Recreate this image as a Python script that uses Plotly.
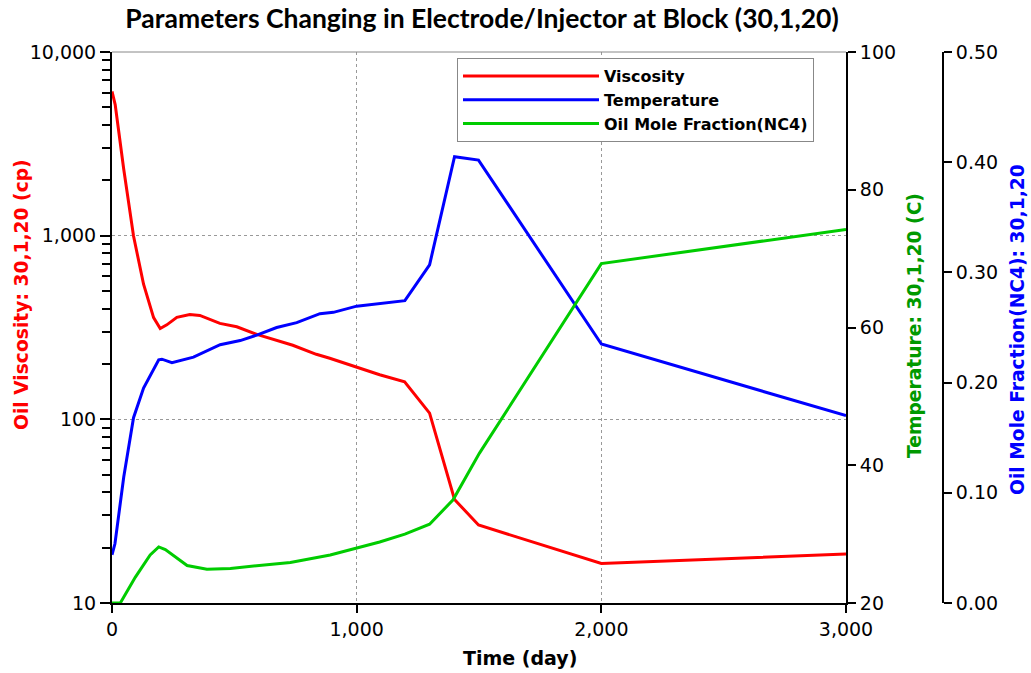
import plotly.graph_objects as go

# ---- data ----
t_visc = [0, 13, 48, 88, 129, 170, 197, 224, 265, 318, 359, 441, 510, 592, 739, 835, 890, 1000, 1094, 1196, 1298, 1400, 1498, 2000, 3000]
visc = [6100, 5170, 2300, 995, 544, 358, 312, 327, 359, 372, 368, 333, 319, 290, 253, 226, 215, 192, 175, 160, 108, 36.6, 26.6, 16.4, 18.5]

t_temp = [0, 12, 48, 88, 129, 170, 191, 204, 245, 333, 442, 524, 592, 673, 755, 850, 905, 1000, 1197, 1298, 1400, 1498, 2000, 3000]
temp = [27.0, 28.6, 38.3, 46.9, 51.2, 53.9, 55.3, 55.4, 54.9, 55.7, 57.5, 58.1, 58.9, 60.0, 60.7, 62.0, 62.2, 63.1, 63.9, 69.1, 84.8, 84.3, 57.6, 47.2]

t_frac = [0, 34, 95, 156, 191, 218, 307, 388, 484, 729, 892, 1000, 1094, 1197, 1298, 1394, 1502, 2000, 3000]
frac = [0, 0, 0.0233, 0.0436, 0.0509, 0.0485, 0.034, 0.0307, 0.0314, 0.0368, 0.0436, 0.0496, 0.0554, 0.0625, 0.0715, 0.0936, 0.136, 0.308, 0.339]

x_ticks = [0, 1000, 2000, 3000]
x_ticklabels = ["0", "1,000", "2,000", "3,000"]
y_ticks = [10, 100, 1000, 10000]
y_ticklabels = ["10", "100", "1,000", "10,000"]

title = "Parameters Changing in Electrode/Injector at Block (30,1,20)"

W, H = 1031, 673
ML, MR, MT, MB = 0, 0, 52, 70
x0_px, x1_px = 112, 846
y3_px = 943

tick_font = dict(family="DejaVu Sans", size=19, color="black")

fig = go.Figure()
fig.add_trace(go.Scatter(x=t_visc, y=visc, mode="lines", name="Viscosity",
                         line=dict(color="#ff0000", width=3), yaxis="y"))
fig.add_trace(go.Scatter(x=t_temp, y=temp, mode="lines", name="Temperature",
                         line=dict(color="#0000ff", width=3), yaxis="y2"))
fig.add_trace(go.Scatter(x=t_frac, y=frac, mode="lines", name="Oil Mole Fraction(NC4)",
                         line=dict(color="#00cc00", width=3), yaxis="y3"))

fig.update_layout(
    width=W, height=H,
    margin=dict(l=ML, r=MR, t=MT, b=MB, autoexpand=False),
    paper_bgcolor="white", plot_bgcolor="white",
    title=dict(text="<b>" + title + "</b>", x=482 / W, xanchor="center",
               y=1 - 19 / H, yanchor="middle",
               font=dict(family="Lato", size=26.5, color="black")),
    xaxis=dict(domain=[x0_px / W, x1_px / W], range=[0, 3000], automargin=False,
               tickvals=x_ticks, ticktext=x_ticklabels,
               ticks="outside", ticklen=8, tickwidth=2, tickcolor="black",
               showline=True, linecolor="black", linewidth=2,
               showgrid=True, gridcolor="#999999", griddash="dot", gridwidth=1,
               zeroline=False, tickfont=tick_font),
    yaxis=dict(type="log", range=[1, 4], automargin=False,
               tickvals=y_ticks, ticktext=y_ticklabels,
               ticks="outside", ticklen=10, tickwidth=2, tickcolor="black",
               minor=dict(ticks="outside", ticklen=8, tickwidth=2, tickcolor="black",
                          dtick="D1", showgrid=False),
               showline=True, linecolor="black", linewidth=2,
               showgrid=True, gridcolor="#999999", griddash="dot", gridwidth=1,
               zeroline=False, tickfont=tick_font),
    yaxis2=dict(overlaying="y", side="right", anchor="x", range=[20, 100], automargin=False,
                tickvals=[20, 40, 60, 80, 100],
                ticks="outside", ticklen=8, tickwidth=2, tickcolor="black",
                showline=True, linecolor="black", linewidth=2,
                showgrid=False, zeroline=False, tickfont=tick_font),
    yaxis3=dict(overlaying="y", side="right", anchor="free", position=y3_px / W,
                range=[0, 0.5], tickvals=[0, 0.1, 0.2, 0.3, 0.4, 0.5], automargin=False,
                tickformat=".2f",
                ticks="outside", ticklen=8, tickwidth=2, tickcolor="black",
                showline=True, linecolor="black", linewidth=2,
                showgrid=False, zeroline=False, tickfont=tick_font),
    legend=dict(x=457 / W, y=(H - MB - 58) / (H - MT - MB), xanchor="left", yanchor="top",
                bgcolor="white", bordercolor="#888888", borderwidth=1,
                itemwidth=136, tracegroupgap=0,
                font=dict(family="DejaVu Sans", size=16, color="black", weight="bold")),
    showlegend=True,
)

# top frame line of the plot area
fig.add_shape(type="line", xref="x domain", yref="y domain", x0=0, x1=1, y0=1, y1=1,
              line=dict(color="#888888", width=1))

def ypaper(py):
    return (H - MB - py) / (H - MT - MB)

title_font_size = 18.7
fig.add_annotation(text="<b>Oil Viscosity: 30,1,20 (cp)</b>", textangle=-90,
                   xref="paper", yref="paper", x=21 / W, y=ypaper(295),
                   xanchor="center", yanchor="middle",
                   showarrow=False, font=dict(family="DejaVu Sans", size=title_font_size, color="#ff0000"))
fig.add_annotation(text="<b>Temperature: 30,1,20 (C)</b>", textangle=-90,
                   xref="paper", yref="paper", x=914 / W, y=ypaper(326),
                   xanchor="center", yanchor="middle",
                   showarrow=False, font=dict(family="DejaVu Sans", size=title_font_size, color="#009900"))
fig.add_annotation(text="<b>Oil Mole Fraction(NC4): 30,1,20</b>", textangle=-90,
                   xref="paper", yref="paper", x=1017 / W, y=ypaper(330),
                   xanchor="center", yanchor="middle",
                   showarrow=False, font=dict(family="DejaVu Sans", size=title_font_size, color="#0000ff"))
fig.add_annotation(text="<b>Time (day)</b>", xref="paper", yref="paper",
                   x=520 / W, y=ypaper(658), xanchor="center", yanchor="middle",
                   showarrow=False,
                   font=dict(family="DejaVu Sans", size=19, color="black"))

fig.write_html("out.html")
